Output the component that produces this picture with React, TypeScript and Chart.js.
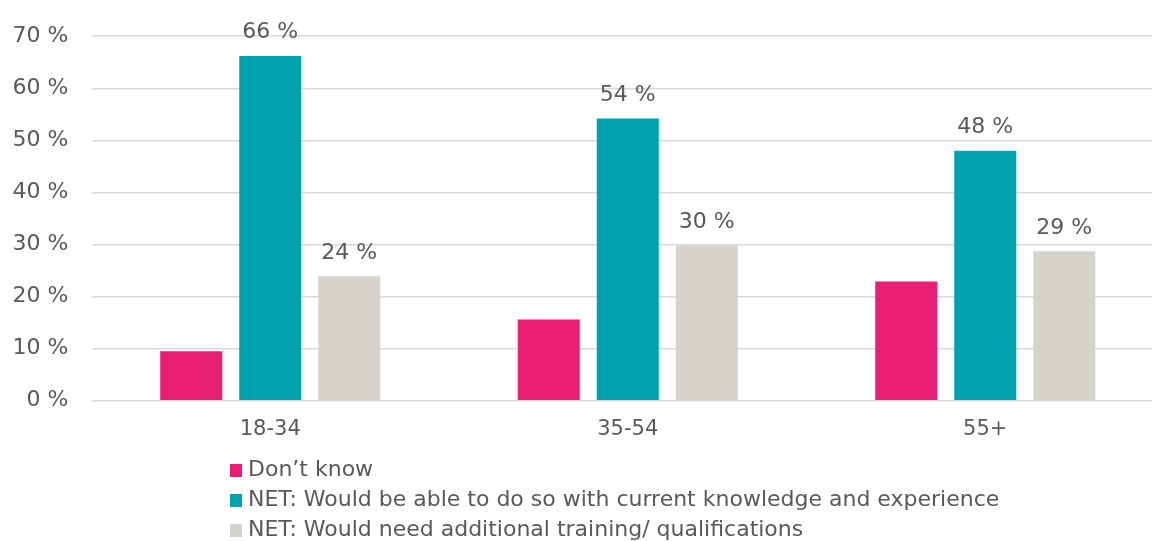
import React, { useEffect, useRef } from "react";
import { Chart, registerables } from "chart.js";

Chart.register(...registerables);

const categories = ["18-34", "35-54", "55+"];
const seriesNames = [
  "Don’t know",
  "NET: Would be able to do so with current knowledge and experience",
  "NET: Would need additional training/ qualifications",
];
const dontKnow = [9.5, 15.6, 22.9];
const ableNow = [66.2, 54.2, 48.0];
const needTraining = [23.9, 29.8, 28.7];
const seriesColors = ["#E91E74", "#00A3AD", "#D6D2CC"];
const labelledSeries = [1, 2];
const yMax = 70;
const yStep = 10;

const FONT = "'DejaVu Sans', sans-serif";
const TEXT = "#595959";

const W = 1164;
const H = 541;

const valueLabels = {
  id: "valueLabels",
  afterDatasetsDraw(chart: any) {
    const ctx = chart.ctx;
    ctx.save();
    ctx.font = `22px ${FONT}`;
    ctx.fillStyle = TEXT;
    ctx.textAlign = "center";
    ctx.textBaseline = "alphabetic";
    labelledSeries.forEach((di) => {
      const meta = chart.getDatasetMeta(di);
      const data = chart.data.datasets[di].data as number[];
      meta.data.forEach((el: any, i: number) => {
        ctx.fillText(`${Math.round(data[i])} %`, el.x, el.y - 17.5);
      });
    });
    ctx.restore();
  },
};

export default function App() {
  const ref = useRef<HTMLCanvasElement>(null);
  useEffect(() => {
    if (!ref.current) return;
    const series = [dontKnow, ableNow, needTraining];
    const chart = new Chart(ref.current, {
      type: "bar",
      data: {
        labels: categories,
        datasets: series.map((d, i) => ({
          label: seriesNames[i],
          data: d,
          backgroundColor: seriesColors[i],
          borderWidth: 0,
          categoryPercentage: 0.663,
          barPercentage: 0.785,
        })),
      },
      options: {
        responsive: false,
        animation: false,
        devicePixelRatio: 1,
        layout: { padding: { top: 34, left: 0, right: 0, bottom: 0 } },
        plugins: {
          legend: { display: false },
          tooltip: { enabled: false },
        },
        scales: {
          x: {
            grid: { display: false, drawTicks: false },
            border: { display: false },
            ticks: {
              font: { family: FONT, size: 21 },
              color: TEXT,
              padding: 16,
            },
            afterFit(scale: any) {
              scale.height = 140.3;
            },
          },
          y: {
            min: 0,
            max: yMax,
            grid: { color: "#D9D9D9", lineWidth: 1.5, drawTicks: false },
            border: { display: false },
            ticks: {
              stepSize: yStep,
              font: { family: FONT, size: 22 },
              color: TEXT,
              padding: 23,
              callback: (v: any) => `${v} %`,
            },
            afterFit(scale: any) {
              scale.width = 91.5;
            },
          },
        },
      },
      plugins: [valueLabels],
    });
    return () => chart.destroy();
  }, []);

  const rowTops = [464.3, 494.3, 524.3];
  return (
    <div
      style={{
        position: "fixed",
        left: 0,
        top: 0,
        width: 1152,
        height: 541,
        overflow: "hidden",
        background: "#fff",
      }}
    >
      <canvas ref={ref} width={W} height={H} style={{ display: "block", width: W, height: H }} />
      {seriesNames.map((name, i) => (
        <React.Fragment key={name}>
          <div
            style={{
              position: "absolute",
              left: 229.5,
              top: rowTops[i],
              width: 12.4,
              height: 12.4,
              background: seriesColors[i],
            }}
          />
          <div
            style={{
              position: "absolute",
              left: 248,
              top: rowTops[i] + 12.4 - 22.6,
              height: 30,
              lineHeight: "30px",
              fontFamily: FONT,
              fontSize: 22,
              color: TEXT,
              whiteSpace: "nowrap",
            }}
          >
            {name}
          </div>
        </React.Fragment>
      ))}
    </div>
  );
}
